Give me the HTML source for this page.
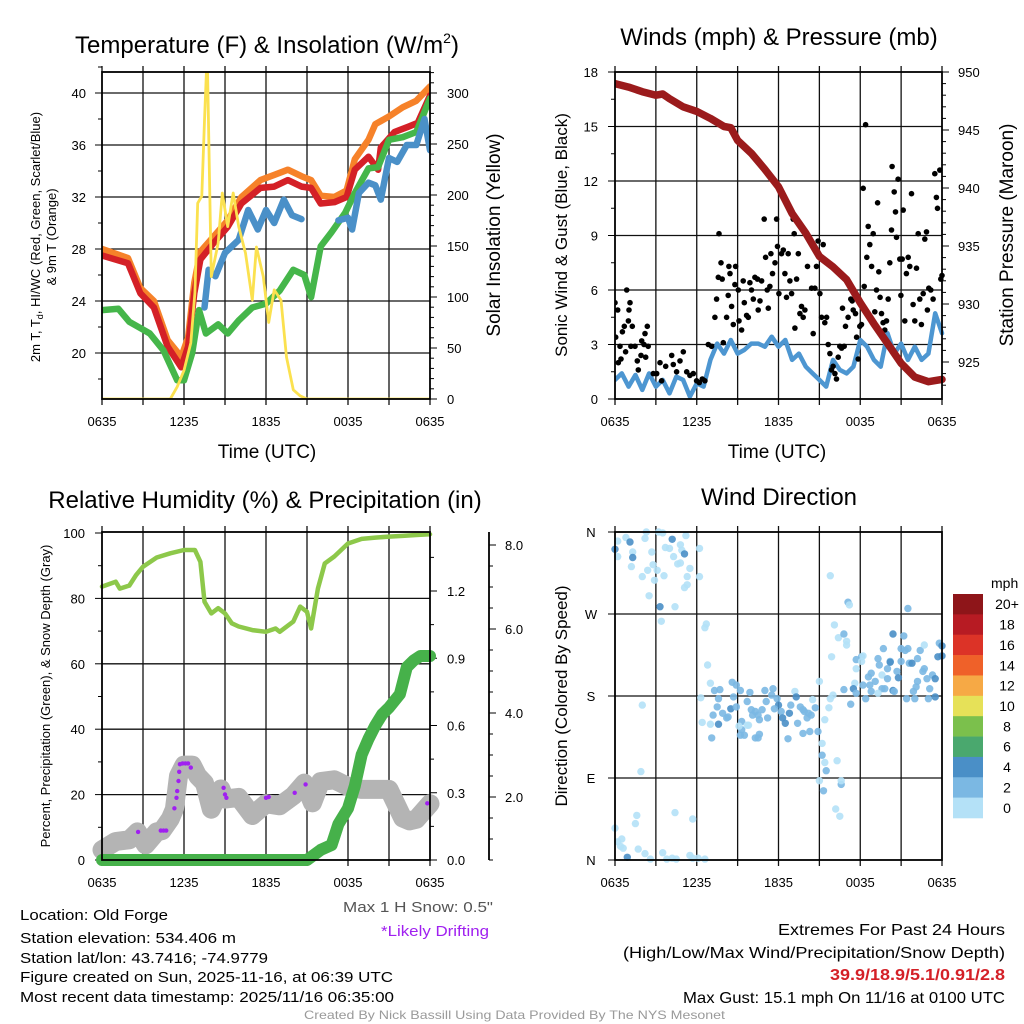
<!DOCTYPE html>
<html><head><meta charset="utf-8"><style>
html,body{margin:0;padding:0;background:#fff;}
svg{display:block;font-family:"Liberation Sans",Arial,sans-serif;}
</style></head><body>
<svg id="c" width="1024" height="1024" viewBox="0 0 1024 1024" xmlns="http://www.w3.org/2000/svg">
<rect width="1024" height="1024" fill="#fff"/>
<g id="p1"></g>
<g id="p2"></g>
<g id="p3"></g>
<g id="p4"></g>
<g id="txt">
<text x="267" y="53" font-size="24" text-anchor="middle">Temperature (F) &amp; Insolation (W/m<tspan font-size="14" dy="-10">2</tspan><tspan dy="10">)</tspan></text>
<text x="779" y="45" font-size="24" text-anchor="middle">Winds (mph) &amp; Pressure (mb)</text>
<text x="265" y="508" font-size="24" text-anchor="middle">Relative Humidity (%) &amp; Precipitation (in)</text>
<text x="779" y="505" font-size="24" text-anchor="middle">Wind Direction</text>
<text x="267" y="458" font-size="19" text-anchor="middle">Time (UTC)</text>
<text x="777" y="458" font-size="19" text-anchor="middle">Time (UTC)</text>
<text transform="translate(40,237) rotate(-90)" font-size="13" text-anchor="middle">2m T, T<tspan font-size="9" dy="3">d</tspan><tspan dy="-3">, HI/WC (Red, Green, Scarlet/Blue)</tspan></text>
<text transform="translate(56,237) rotate(-90)" font-size="13" text-anchor="middle">&amp; 9m T (Orange)</text>
<text transform="translate(500,235) rotate(-90)" font-size="19" text-anchor="middle">Solar Insolation (Yellow)</text>
<text transform="translate(567,235) rotate(-90)" font-size="17" text-anchor="middle">Sonic Wind &amp; Gust (Blue, Black)</text>
<text transform="translate(1013,235) rotate(-90)" font-size="19" text-anchor="middle">Station Pressure (Maroon)</text>
<text transform="translate(50,696) rotate(-90)" font-size="13" text-anchor="middle">Percent, Precipitation (Green), &amp; Snow Depth (Gray)</text>
<text transform="translate(567,696) rotate(-90)" font-size="17" text-anchor="middle">Direction (Colored By Speed)</text>
<g font-size="15">
<text x="20" y="920" textLength="148" lengthAdjust="spacingAndGlyphs">Location: Old Forge</text>
<text x="20" y="943" textLength="216" lengthAdjust="spacingAndGlyphs">Station elevation: 534.406 m</text>
<text x="20" y="963" textLength="248" lengthAdjust="spacingAndGlyphs">Station lat/lon: 43.7416; -74.9779</text>
<text x="20" y="982" textLength="373" lengthAdjust="spacingAndGlyphs">Figure created on Sun, 2025-11-16, at 06:39 UTC</text>
<text x="20" y="1002" textLength="374" lengthAdjust="spacingAndGlyphs">Most recent data timestamp: 2025/11/16 06:35:00</text>
</g>
<text x="343" y="912" font-size="15" fill="#555" textLength="150" lengthAdjust="spacingAndGlyphs">Max 1 H Snow: 0.5"</text>
<text x="381" y="936" font-size="15" fill="#a020f0" textLength="108" lengthAdjust="spacingAndGlyphs">*Likely Drifting</text>
<text x="778" y="935" font-size="16" textLength="227" lengthAdjust="spacingAndGlyphs">Extremes For Past 24 Hours</text>
<text x="623" y="958" font-size="16" textLength="382" lengthAdjust="spacingAndGlyphs">(High/Low/Max Wind/Precipitation/Snow Depth)</text>
<text x="830" y="980" font-size="16" font-weight="bold" fill="#d42027" textLength="175" lengthAdjust="spacingAndGlyphs">39.9/18.9/5.1/0.91/2.8</text>
<text x="683" y="1003" font-size="16" textLength="322" lengthAdjust="spacingAndGlyphs">Max Gust: 15.1 mph On 11/16 at 0100 UTC</text>
<text x="304" y="1019" font-size="12" fill="#9a9a9a" textLength="421" lengthAdjust="spacingAndGlyphs">Created By Nick Bassill Using Data Provided By The NYS Mesonet</text>
</g>
</svg>
<script>
// ---------- DATA ----------
const timeTicks = [0, 6, 12, 18, 24];
const timeTickLabels = ["0635", "1235", "1835", "0035", "0635"];

const redT_h = [0,1.9,2.8,3.8,4.8,5.8,6.3,6.75,7.2,8.2,9.2,10.2,11.6,12.6,13.6,14.6,15.3,16.0,17.0,17.9,18.5,19.5,20.2,20.4,21.4,22.4,23.1,24];
const redT_v = [27.5,26.9,24.6,23.5,20.5,18.9,20.5,24.6,27.2,28.5,29.7,31.5,32.7,32.8,33.3,32.8,32.7,31.5,31.6,32.0,34.1,35.1,34.1,35.8,37.0,37.4,37.7,39.8];
const orgT_h = [0,1.9,2.8,3.8,4.8,5.8,6.3,6.75,7.2,8.2,9.2,10.2,11.6,12.6,13.6,14.6,15.3,16.0,17.0,17.9,18.5,19.5,20.0,21.0,22.0,23.0,24];
const orgT_v = [28.0,27.3,25.0,24.0,21.0,19.7,21.2,25.4,27.8,29.0,30.2,32.0,33.3,33.7,34.1,33.6,33.3,32.1,32.0,32.5,34.9,36.4,37.6,38.2,38.9,39.4,40.5];
const grnT_h = [0,1.2,2,3,3.5,4.5,5.5,6,6.6,7.1,7.6,8.5,9.2,10,11,12,13,14,14.8,15.3,16,16.8,17.8,18.5,19.5,20.2,21,22,23,24];
const grnT_v = [23.3,23.4,22.4,21.8,21.5,20.2,17.9,17.9,20.0,23.3,21.5,22.2,21.5,22.5,23.5,23.8,24.8,26.4,26.0,24.3,28.2,29.3,30.8,32.3,34.2,34.3,36.4,36.6,37.0,39.6];
const bluT_h = [7.5,7.8,8.3,9,10,10.7,11.4,12,12.6,13.3,13.9,14.6,null,17.3,18,18.3,18.8,19.5,20,20.4,21,21.6,22.3,23,23.6,24];
const bluT_v = [23.5,26.4,25.9,27.7,28.7,31.0,29.5,31.0,30.0,31.8,30.6,30.3,null,30.2,30.4,29.5,32.3,33.1,32.9,31.8,35.0,34.7,36.0,36.0,38.0,35.6];
const solar_h = [0,5,5.5,6,6.5,6.8,7.0,7.3,7.5,7.7,8,8.5,8.8,9.2,9.6,10,10.5,11,11.3,11.8,12.2,12.6,13.1,13.5,14,14.5,15,24];
const solar_v = [0,0,12,28,55,104,192,199,273,340,120,153,202,169,202,169,143,97,149,120,75,107,97,41,9,3,0,0];

const wind_h = [0,0.5,1,1.5,2,2.5,3,3.5,4,4.5,5,5.5,6,6.5,7,7.5,8,8.5,9,9.5,10,10.5,11,11.5,12,12.5,13,13.5,14,14.5,15,15.5,16,16.5,17,17.5,18,18.5,19,19.5,20,20.5,21,21.5,22,22.5,23,23.5,24];
const wind_v = [1.05,1.41,0.68,1.32,0.5,1.41,0.68,1.05,0.31,1.23,1.05,0.13,0.86,0.68,2.15,3.05,2.5,3.25,2.5,2.7,3.05,3.05,2.88,3.43,2.88,3.25,2.15,2.5,1.78,1.41,1.05,0.68,2.15,1.6,1.41,1.78,3.25,2.88,2.15,1.78,3.62,2.5,3.05,2.15,2.88,2.15,2.5,4.72,3.62];
const gust_h = [0,0.2,0.05,0.37,0.24,0.54,0.68,0.86,1.03,1.1,0.98,1.27,0.44,0.78,1.17,1.47,1.64,1.71,1.91,2.13,2.25,2.37,2.2,2.44,1.96,2.81,3.06,3.3,3.42,3.72,4.16,4.28,4.52,4.77,5.01,5.26,5.5,5.75,5.99,6.19,6.41,6.6,6.85,7.09,7.33,7.46,7.63,7.78,7.58,7.87,7.95,8.19,8.31,8.36,8.44,8.56,8.68,8.85,8.8,9.05,9.1,9.29,9.41,9.49,9.66,9.78,9.9,10.02,10.15,10.27,10.46,10.51,10.64,10.76,10.95,11.05,11.17,11.25,11.37,11.44,11.56,11.74,11.86,11.93,12.03,12.22,12.35,12.47,12.59,12.71,12.84,12.96,13.08,13.15,13.2,13.33,13.45,13.57,13.69,13.81,13.94,14.13,14.43,14.55,14.67,14.79,14.91,15.04,15.16,15.28,15.4,15.53,15.65,15.77,15.89,16.01,16.14,16.26,16.38,16.5,16.63,16.7,16.82,16.92,17.11,17.31,17.41,17.48,17.65,17.73,17.85,17.97,18.09,18.22,18.29,18.39,18.48,18.58,18.7,18.83,18.95,19.07,19.19,19.27,19.36,19.46,19.56,19.68,19.8,19.93,20.05,20.17,20.29,20.34,20.49,20.59,20.66,20.78,20.9,20.98,21.08,21.15,21.27,21.39,21.52,21.64,21.76,21.88,22.0,22.13,22.25,22.37,22.49,22.62,22.74,22.86,22.93,23.03,23.18,23.35,23.47,23.59,23.67,23.84,23.91,24.0];
const gust_v = [5.3,4.9,3.4,2.9,2.0,3.7,4.0,6.0,4.9,5.3,4.3,4.0,2.2,2.6,2.9,2.9,2.1,1.6,2.4,3.0,2.3,4.0,3.6,2.9,3.2,1.4,1.4,2.0,1.0,1.8,2.4,1.9,1.5,2.1,2.6,1.5,1.3,1.4,1.0,0.9,1.1,1.0,3.0,2.9,4.5,5.5,9.1,7.5,6.7,6.6,3.1,4.5,5.7,7.3,6.9,5.1,4.1,7.3,6.3,6.0,4.3,3.8,6.5,5.3,4.6,4.5,6.4,6.0,5.5,6.7,6.6,4.9,5.4,6.5,9.9,7.8,6.0,5.0,6.2,8.0,6.9,7.5,9.9,8.4,5.8,8.0,8.2,6.9,5.6,8.0,6.5,5.8,9.9,9.1,3.9,6.6,8.0,4.7,5.1,4.5,4.9,7.3,6.1,3.6,6.1,7.3,8.7,5.8,4.5,8.5,4.2,4.5,3.0,2.5,1.6,1.8,1.4,1.1,2.3,2.9,2.8,5.0,2.9,4.0,4.5,5.5,5.4,4.9,4.7,3.4,2.2,4.0,4.1,11.6,6.2,15.1,7.8,9.5,8.5,7.3,9.1,4.8,6.0,10.8,7.0,5.6,4.7,4.2,3.8,4.3,5.5,7.5,9.3,12.8,11.4,10.3,8.9,12.1,7.7,5.7,7.7,10.4,4.3,6.9,7.8,7.3,11.3,5.2,4.3,7.2,9.1,5.5,4.1,5.8,8.8,9.2,4.9,6.1,6.0,5.5,12.4,11.1,10.5,12.6,6.6,6.8];
const pres_h = [0,1,2,3,3.5,4,5,6,7,8,8.5,9,10,11,12,13,14,15,16,17,18,19,20,21,22,23,24];
const pres_v = [949.0,948.7,948.3,948.0,948.1,947.7,947.0,946.6,946.0,945.3,945.2,944.1,943.0,941.6,940.1,937.8,936.1,934.1,933.2,932.1,930.1,928.3,926.6,924.9,923.7,923.3,923.5];

const rh_h = [0,1,1.3,2,2.5,3,4,5,6,6.8,7.2,7.5,8,8.5,9,9.5,10,11,12,12.7,13,14,14.5,15,15.3,15.8,16.3,17,18,19,20,21,22,23,24];
const rh_v = [83.6,85.1,83,83.9,87.2,89.7,92.5,93.8,94.8,94.8,91.2,79,75.4,77,75.4,72.4,71.4,70.3,69.8,70.8,69.8,72.9,77.5,75.9,70.8,83,90.7,92.8,96.8,98.2,98.6,98.9,99.1,99.4,99.6];
const pcp_h = [0,15.0,16.0,16.8,17.3,18.0,18.5,19.0,19.5,20.0,20.5,21.0,21.8,22.3,22.8,23.3,24];
const pcp_v = [0,0,0.045,0.067,0.16,0.23,0.33,0.47,0.54,0.60,0.65,0.68,0.74,0.86,0.89,0.91,0.91];
const snow_h = [0,1,2,2.6,3.2,4,4.4,5,5.3,5.6,6,6.6,7,7.5,8,8.7,9,10,11,12,13,14,14.8,15.4,16,17,18,19,20,21,22,22.5,23,24];
const snow_v = [0.74,0.94,0.98,1.17,0.86,1.17,1.2,1.48,1.71,2.5,2.76,2.76,2.5,2.33,1.71,2.19,1.95,1.99,1.56,1.84,1.79,2.03,2.33,1.86,2.37,2.41,2.25,2.18,2.18,2.18,1.5,1.43,1.47,1.84];
const drift_h = [2.64,4.3,4.5,4.7,5.3,5.45,5.5,5.6,5.65,5.7,5.9,6.1,6.3,6.5,8.9,9.0,9.1,12.0,12.2,14.1,14.9,23.8];
const drift_v = [1.17,1.2,1.2,1.2,1.73,1.98,2.14,2.38,2.6,2.78,2.8,2.8,2.8,2.7,2.22,2.06,1.98,1.98,2.0,2.1,2.3,1.85];

const dir_h = [0.0,0.2,0.8,1.1,0.2,1.3,1.3,1.2,2.0,2.2,2.3,2.7,2.4,2.8,2.9,3.1,3.2,3.5,3.7,4.0,4.2,4.3,4.8,4.9,5.1,4.6,4.8,5.2,5.5,5.3,5.3,5.1,6.2,6.2,3.6,2.5,3.3,4.4,3.4,6.7,6.6,6.8,7.0,6.3,2.0,1.9,0.0,1.6,1.5,4.4,5.7,0.2,0.5,0.6,0.4,0.9,1.7,2.2,2.6,3.5,3.8,4.2,4.5,5.5,5.7,6.1,6.6,7.3,7.7,7.2,7.6,7.5,7.9,7.6,7.1,6.4,7.0,8.5,8.6,8.9,9.2,8.7,8.9,8.2,8.3,9.3,9.3,9.2,9.5,9.7,9.9,9.8,10.0,10.1,10.3,10.5,10.6,10.8,11.0,11.1,11.2,11.5,11.6,11.9,12.0,11.7,12.2,12.3,12.5,12.7,12.8,12.9,13.2,13.3,13.4,13.6,13.8,13.9,14.1,14.2,14.4,14.5,14.7,13.8,14.3,14.9,15.4,15.0,15.8,15.7,16.0,10.6,10.3,10.5,9.1,9.7,15.2,15.2,15.4,16.3,15.5,15.0,16.6,16.6,15.3,16.2,16.5,15.8,17.1,17.2,21.5,16.1,16.4,16.8,17.0,17.0,15.9,17.7,17.7,18.1,18.1,18.2,17.6,16.8,17.3,17.5,18.4,17.7,18.6,18.8,18.7,19.1,19.3,19.4,19.6,19.7,19.8,20.0,20.0,20.2,20.2,20.4,20.4,20.5,20.7,20.8,21.0,21.0,21.2,21.3,21.4,21.5,21.6,21.8,21.9,22.0,22.1,22.2,22.4,22.6,22.7,22.9,23.0,23.1,23.3,23.5,23.5,23.7,23.8,24.0,24.0,18.8,18.2,19.6,19.3,22.2,22.7];
const dir_deg = [341,350,354,349,333,338,332,322,311,353,360,338,318,324,307,318,360,359,343,342,352,333,346,340,336,325,326,356,320,311,302,299,311,342,312,290,278,278,262,259,255,214,194,178,170,97,35,49,40,52,45,20,23,13,15,3,12,7,1,8,1,2,1,5,2,2,1,186,187,159,177,168,161,149,134,151,149,166,195,192,186,179,168,156,157,152,143,137,137,174,184,148,165,159,163,159,154,165,186,174,156,181,188,177,170,166,163,156,150,133,161,170,185,179,150,168,165,163,156,161,159,176,167,139,141,141,154,196,177,167,181,138,134,134,147,148,128,115,107,109,98,87,83,87,76,56,48,312,283,280,276,258,244,248,240,236,223,220,210,223,218,224,194,187,171,188,177,183,201,205,192,196,221,214,203,232,188,210,199,218,217,248,186,185,207,200,218,232,246,230,177,232,216,216,185,177,190,221,230,207,236,199,177,188,203,179,199,223,238,224,235,185,192,188,183,196,210];
const dir_spd = [5,1,1,5,1,1,5,1,1,1,1,1,1,1,1,1,1,1,1,1,5,1,1,1,5,1,1,1,1,1,1,1,1,1,1,1,5,1,1,1,1,1,1,1,1,1,1,1,1,1,1,1,1,1,1,5,1,1,1,1,1,1,1,1,1,1,1,3,3,3,3,3,3,5,3,1,1,5,3,3,3,3,3,3,3,3,3,3,3,3,3,1,3,3,3,3,3,3,3,3,3,3,3,3,5,3,3,5,5,3,5,3,1,5,3,3,3,3,3,3,3,1,3,3,3,3,1,1,1,1,1,3,3,3,1,1,1,3,1,1,3,1,3,1,3,1,1,1,3,1,3,1,1,3,1,1,1,3,1,3,1,1,1,3,3,5,3,3,3,3,3,3,3,3,1,3,3,3,3,3,5,5,5,3,3,5,3,3,3,3,3,3,3,5,3,3,3,3,3,3,1,3,3,3,3,5,5,5,3,5,5,3,3,3,1,3,3];

const cbLabels = ["20+","18","16","14","12","10","8","6","4","2","0"];
const cbColors = ["#8e1519","#b71b23","#dc3327","#ef6129","#f6a945","#e6e158","#7bc04c","#4aa86e","#4a8fc7","#7bb8e3","#b4e1f7"];

// ---------- HELPERS ----------
const NS = "http://www.w3.org/2000/svg";
function mk(tag, attrs, parent) {
  const e = document.createElementNS(NS, tag);
  for (const k in attrs) e.setAttribute(k, attrs[k]);
  parent.appendChild(e);
  return e;
}
function lin(d0, d1, r0, r1) { return v => r0 + (v - d0) * (r1 - r0) / (d1 - d0); }
function pathFrom(hs, vs, xf, yf) {
  let d = "", pen = false;
  for (let i = 0; i < hs.length; i++) {
    if (hs[i] === null || vs[i] === null) { pen = false; continue; }
    d += (pen ? "L" : "M") + xf(hs[i]).toFixed(1) + "," + yf(vs[i]).toFixed(1);
    pen = true;
  }
  return d;
}
function frameAndGrid(g, X0, X1, Y0, Y1, xf, hLines) {
  const gr = mk("g", {stroke: "#111", "stroke-width": 1.3}, g);
  
  
  for (let h = 3; h < 24; h += 3) mk("line", {x1: xf(h), x2: xf(h), y1: Y0, y2: Y1}, gr);
  hLines.forEach(y => mk("line", {x1: X0, x2: X1, y1: y, y2: y}, gr));
  for (let h = 0; h <= 24; h += 3) mk("line", {x1: xf(h), x2: xf(h), y1: Y1, y2: Y1 + 6}, gr);
  for (let h = 0; h <= 24; h += 3) mk("line", {x1: xf(h), x2: xf(h), y1: Y0, y2: Y0 - 6}, gr);
  timeTicks.forEach((h, i) => {
    const t = mk("text", {x: xf(h), y: Y1 + 27, "font-size": 13, "text-anchor": "middle"}, g);
    
    
    t.textContent = timeTickLabels[i];
  });
}
function frame(g, X0, X1, Y0, Y1) {
  const r = mk("rect", {x: X0, y: Y0, width: X1 - X0, height: Y1 - Y0, fill: "none", stroke: "#000", "stroke-width": 1.8}, g);
  
  
}
function yAxis(g, x, side, ticks, labels, yf, minors, lx) {
  ticks.forEach((v, i) => {
    mk("line", {x1: x, x2: x + side * 7, y1: yf(v), y2: yf(v), stroke: "#000", "stroke-width": 1}, g);
    const t = mk("text", {x: lx, y: yf(v) + 5, "font-size": 13, "text-anchor": side < 0 ? "end" : "start"}, g);
    
    
    t.textContent = labels[i];
  });
  minors.forEach(v => mk("line", {x1: x, x2: x + side * 4, y1: yf(v), y2: yf(v), stroke: "#000", "stroke-width": 1}, g));
}
function range(a, b, s) { const r = []; for (let v = a; v <= b + 1e-9; v += s) r.push(+v.toFixed(4)); return r; }

// ---------- PANEL 1 ----------
(function () {
  const g = document.getElementById("p1");
  const X0 = 102, X1 = 430, Y0 = 72, Y1 = 399;
  const x = lin(0, 24, X0, X1);
  const yT = lin(40, 20, 93, 353);
  const yS = lin(0, 300, 399, 93);
  frameAndGrid(g, X0, X1, Y0, Y1, x, [40, 36, 32, 28, 24, 20].map(yT));
  yAxis(g, X0, -1, [40, 36, 32, 28, 24, 20], ["40", "36", "32", "28", "24", "20"], yT, range(18, 42, 2), 86);
  yAxis(g, X1, 1, [0, 50, 100, 150, 200, 250, 300], ["0", "50", "100", "150", "200", "250", "300"], yS, range(10, 320, 10), 447);
  const cp = mk("clipPath", {id: "cl1"}, g); mk("rect", {x: X0, y: Y0, width: X1 - X0, height: Y1 - Y0}, cp);
  const s = mk("g", {"clip-path": "url(#cl1)", fill: "none", "stroke-linejoin": "round", "stroke-linecap": "round"}, g);
  const series = [
    [orgT_h, orgT_v, yT, "#f6822a", 6.5, "orange-9m-temp-line"],
    [redT_h, redT_v, yT, "#d42027", 6.5, "red-2m-temp-line"],
    [grnT_h, grnT_v, yT, "#45b64a", 6.5, "green-dewpoint-line"],
    [bluT_h, bluT_v, yT, "#4a90c8", 6.5, "blue-windchill-line"],
    [solar_h, solar_v, yS, "#fbe14f", 2.8, "yellow-insolation-line"]];
  series.forEach(sr => {
    const p = mk("path", {d: pathFrom(sr[0], sr[1], x, sr[2]), stroke: sr[3], "stroke-width": sr[4]}, s);
    
    
  });
  frame(g, X0, X1, Y0, Y1);
})();

// ---------- PANEL 2 ----------
(function () {
  const g = document.getElementById("p2");
  const X0 = 615, X1 = 942, Y0 = 72, Y1 = 399;
  const x = lin(0, 24, X0, X1);
  const yW = lin(0, 18, 399, 72);
  const yP = lin(925, 950, 362, 72);
  frameAndGrid(g, X0, X1, Y0, Y1, x, [3, 6, 9, 12, 15].map(yW));
  yAxis(g, X0, -1, [0, 3, 6, 9, 12, 15, 18], ["0", "3", "6", "9", "12", "15", "18"], yW, range(1.5, 16.5, 3), 598);
  yAxis(g, X1, 1, [925, 930, 935, 940, 945, 950], ["925", "930", "935", "940", "945", "950"], yP, range(923, 949, 1), 958);
  const cp = mk("clipPath", {id: "cl2"}, g); mk("rect", {x: X0, y: Y0 - 2, width: X1 - X0 + 4, height: Y1 - Y0 + 2}, cp);
  const s = mk("g", {"clip-path": "url(#cl2)", "stroke-linejoin": "round", "stroke-linecap": "round"}, g);
  const wl = mk("path", {d: pathFrom(wind_h, wind_v, x, yW), fill: "none", stroke: "#4d96d1", "stroke-width": 4.5}, s);
  
  
  const gd = mk("g", {fill: "#000"}, s);
  
  
  gust_h.forEach((h, i) => {
    const c = mk("circle", {cx: x(h).toFixed(1), cy: yW(gust_v[i]).toFixed(1), r: 2.8}, gd);
    
    
  });
  const pl = mk("path", {d: pathFrom(pres_h, pres_v, x, yP), fill: "none", stroke: "#9b1b1c", "stroke-width": 7.5}, s);
  
  
  frame(g, X0, X1, Y0, Y1);
})();

// ---------- PANEL 3 ----------
(function () {
  const g = document.getElementById("p3");
  const X0 = 102, X1 = 430, Y0 = 532, Y1 = 860;
  const x = lin(0, 24, X0, X1);
  const yR = lin(0, 100, 860, 533);
  const yI = lin(0, 1.2, 860, 591);
  const yS = lin(2, 8, 797, 545);
  frameAndGrid(g, X0, X1, Y0, Y1, x, [20, 40, 60, 80].map(yR));
  yAxis(g, X0, -1, [0, 20, 40, 60, 80, 100], ["0", "20", "40", "60", "80", "100"], yR, range(10, 90, 20), 85);
  yAxis(g, X1, 1, [0, 0.3, 0.6, 0.9, 1.2], ["0.0", "0.3", "0.6", "0.9", "1.2"], yI, range(0.15, 1.35, 0.3), 447);
  mk("line", {x1: 489, x2: 489, y1: 532, y2: 860, stroke: "#000", "stroke-width": 1.8}, g);
  yAxis(g, 489, 1, [2, 4, 6, 8], ["2.0", "4.0", "6.0", "8.0"], yS, range(0.5, 8, 0.5), 505);
  const cp = mk("clipPath", {id: "cl3"}, g); mk("rect", {x: X0 - 10, y: Y0, width: X1 - X0 + 20, height: Y1 - Y0 + 10}, cp);
  const s = mk("g", {"clip-path": "url(#cl3)", fill: "none", "stroke-linejoin": "round", "stroke-linecap": "round"}, g);
  const sl = mk("path", {d: pathFrom(snow_h, snow_v, x, yS), stroke: "#b4b4b4", "stroke-width": 19}, s);
  
  
  const dd = mk("g", {fill: "#a020f0"}, s);
  
  
  drift_h.forEach((h, i) => {
    const c = mk("circle", {cx: x(h).toFixed(1), cy: yS(drift_v[i]).toFixed(1), r: 2.2}, dd);
    
    
  });
  const rl = mk("path", {d: pathFrom(rh_h, rh_v, x, yR), stroke: "#8dc84a", "stroke-width": 4.5}, s);
  
  
  const pl = mk("path", {d: pathFrom(pcp_h, pcp_v, x, yI), stroke: "#46b14a", "stroke-width": 12}, s);
  
  
  frame(g, X0, X1, Y0, Y1);
})();

// ---------- PANEL 4 ----------
(function () {
  const g = document.getElementById("p4");
  const X0 = 615, X1 = 942, Y0 = 532, Y1 = 860;
  const x = lin(0, 24, X0, X1);
  const yD = lin(0, 360, 860, 532);
  frameAndGrid(g, X0, X1, Y0, Y1, x, [90, 180, 270].map(yD));
  const dl = ["N", "E", "S", "W", "N"];
  [0, 90, 180, 270, 360].forEach((v, i) => {
    mk("line", {x1: X0, x2: X0 - 7, y1: yD(v), y2: yD(v), stroke: "#000"}, g);
    const t = mk("text", {x: 591, y: yD(v) + 5, "font-size": 13, "text-anchor": "middle"}, g);
    
    
    t.textContent = dl[i];
  });
  const colFor = s => s < 2 ? cbColors[10] : s < 4 ? cbColors[9] : s < 6 ? cbColors[8] : cbColors[7];
  const pts = mk("g", {"fill-opacity": 0.9}, g);
  
  
  dir_h.forEach((h, i) => {
    const c = mk("circle", {cx: x(h).toFixed(1), cy: yD(dir_deg[i]).toFixed(1), r: 3.7, fill: colFor(dir_spd[i])}, pts);
    
    
  });
  frame(g, X0, X1, Y0, Y1);
  const cb = mk("g", {}, g);
  
  
  const t0 = mk("text", {x: 991, y: 588, "font-size": 14}, cb);
  
  
  t0.textContent = "mph";
  const bh = 224 / cbLabels.length;
  cbLabels.forEach((l, i) => {
    const r = mk("rect", {x: 953, y: 594 + i * bh, width: 30, height: bh + 0.3, fill: cbColors[i]}, cb);
    
    
    const t = mk("text", {x: 1007, y: 594 + i * bh + bh / 2 + 5, "font-size": 14, "text-anchor": "middle"}, cb);
    
    
    t.textContent = l;
  });
})();
</script>
</body></html>
